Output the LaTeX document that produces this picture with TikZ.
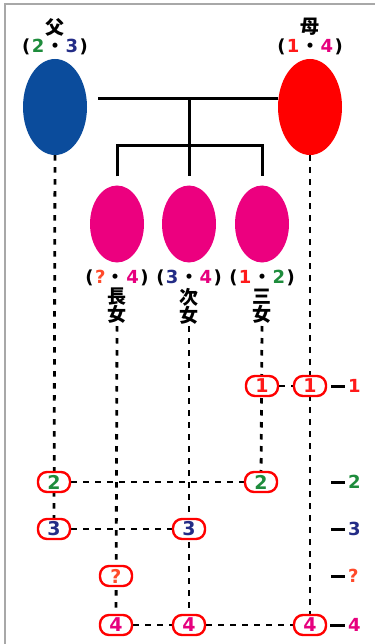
\documentclass[tikz,border=0pt]{standalone}
\usepackage{fontspec}
\newfontfamily\jpf{Noto Sans CJK JP}
\newfontfamily\djf{DejaVu Sans}
\usetikzlibrary{shapes.geometric,backgrounds}
\definecolor{cgreen}{HTML}{1E8C3C}
\definecolor{cnavy}{HTML}{232C86}
\definecolor{cred}{HTML}{FF1A1A}
\definecolor{cmag}{HTML}{E6007E}
\definecolor{corange}{HTML}{FF4A2A}
\definecolor{fblue}{HTML}{0B4C9C}
\definecolor{cpink}{HTML}{EC007F}
\definecolor{mred}{HTML}{FF0000}
\definecolor{frame}{HTML}{A8A8A8}
\newcommand\sep{\hspace{1.5pt}}
\begin{document}
\begin{tikzpicture}[x=1pt,y=-1pt,
  conn/.style={line width=3pt, black},
  dotline/.style={line width=2.8pt, black, dash pattern=on 5.5pt off 6.5pt},
  person/.style={ellipse, inner sep=0pt},
  gbox/.style={draw=red, line width=2.4pt, fill=white, rounded corners=9pt,
    minimum width=32pt, minimum height=20pt, inner sep=0pt,
    font=\djf\bfseries\fontsize{19}{19}\selectfont},
  jptext/.style={font=\jpf\bfseries\fontsize{19}{19}\selectfont, align=center, inner sep=0pt},
  numtext/.style={font=\djf\bfseries\fontsize{18}{18}\selectfont, inner sep=0pt},
  rnum/.style={font=\djf\bfseries\fontsize{18}{18}\selectfont, inner sep=0pt, anchor=west},
  rline/.style={line width=3pt, black}]
\useasboundingbox (0,0) rectangle (375,644);
\draw[frame, line width=2pt] (5,644) -- (5,4) -- (375,4);

% parents
\node[person, fill=fblue, minimum width=64pt, minimum height=96pt] (fa) at (55,107) {};
\node[person, fill=mred, minimum width=64pt, minimum height=96pt] (mo) at (310,107) {};
\node[jptext] (fak) at (55,27) {父};
\node[numtext] (fan) at (55,47) {(\sep\textcolor{cgreen}{2}\sep{\jpf ・}\sep\textcolor{cnavy}{3}\sep)};
\node[jptext] (mok) at (310,27) {母};
\node[numtext] (mon) at (310,47) {(\sep\textcolor{cred}{1}\sep{\jpf ・}\sep\textcolor{cmag}{4}\sep)};

% children
\node[person, fill=cpink, minimum width=54pt, minimum height=77pt] (c1) at (117,224) {};
\node[person, fill=cpink, minimum width=54pt, minimum height=77pt] (c2) at (189,224) {};
\node[person, fill=cpink, minimum width=54pt, minimum height=77pt] (c3) at (262,224) {};
\node[numtext] (c1n) at (117,278) {(\sep\textcolor{corange}{?}\sep{\jpf ・}\sep\textcolor{cmag}{4}\sep)};
\node[numtext] (c2n) at (189,278) {(\sep\textcolor{cnavy}{3}\sep{\jpf ・}\sep\textcolor{cmag}{4}\sep)};
\node[numtext] (c3n) at (262,278) {(\sep\textcolor{cred}{1}\sep{\jpf ・}\sep\textcolor{cgreen}{2}\sep)};
\node[jptext] (c1k) at (117,306) {長\\[-1pt]女};
\node[jptext] (c2k) at (189,306) {次\\[-1pt]女};
\node[jptext] (c3k) at (262,306) {三\\[-1pt]女};

% marriage / sibling connectors
\coordinate (ml) at (98,99);
\coordinate (mj) at (189,99);
\coordinate (sj) at (189,146);
\draw[conn] (ml) -- (ml -| mo.west);
\draw[conn] (mj) -- (sj);
\draw[conn] ([yshift=9pt]c1.north) |- (sj) -| ([yshift=9pt]c3.north);
\draw[conn] (sj) -- ([yshift=9pt]c2.north);

% gene boxes
\node[gbox, text=cred] (t1) at (262,386) {1};
\node[gbox, text=cred] (m1) at (310,386) {1};
\node[gbox, text=cgreen] (f2) at (54,482) {2};
\node[gbox, text=cgreen] (t2) at (261,482) {2};
\node[gbox, text=cnavy] (f3) at (54,529) {3};
\node[gbox, text=cnavy] (s3) at (189,529) {3};
\node[gbox, text=corange] (eq) at (116,576) {?};
\node[gbox, text=cmag] (e4) at (116,625) {4};
\node[gbox, text=cmag] (s4) at (189,625) {4};
\node[gbox, text=cmag] (m4) at (310,625) {4};

% right-hand legend
\node[rnum, text=cred] (r1) at (348,386) {1};
\node[rnum, text=cgreen] (r2) at (348,482) {2};
\node[rnum, text=cnavy] (r3) at (348,529) {3};
\node[rnum, text=corange] (rq) at (348,576) {?};
\node[rnum, text=cmag] (r4) at (348,625) {4};
\coordinate (l1) at (331,386);
\coordinate (l2) at (331,482);
\coordinate (l3) at (331,529);
\coordinate (lq) at (331,576);
\coordinate (l4) at (330,625);
\draw[rline] (l1) -- ([xshift=-3pt]r1.west);
\draw[rline] (l2) -- ([xshift=-3pt]r2.west);
\draw[rline] (l3) -- ([xshift=-3pt]r3.west);
\draw[rline] (lq) -- ([xshift=-3pt]rq.west);
\draw[rline] (l4) -- ([xshift=-3pt]r4.west);

% dotted lines
\coordinate (c1s) at (117,326);
\coordinate (c2s) at (189,326);
\coordinate (c3s) at (262,326);
\begin{pgfonlayer}{background}
\draw[dotline] (fa.south) -- (f3.center);
\draw[dotline] (mo.south) -- (m4.center);
\draw[dotline] (c1s) -- (e4.center);
\draw[dotline] (c2s) -- (s4.center);
\draw[dotline] (c3s) -- (t2.center);
\draw[dotline] (t1.east) -- (m1.west);
\draw[dotline] (f2.east) -- (t2.west);
\draw[dotline] (f3.east) -- (s3.west);
\draw[dotline] (e4.east) -- (s4.west);
\draw[dotline] (s4.east) -- (m4.west);
\end{pgfonlayer}
\end{tikzpicture}
\end{document}
